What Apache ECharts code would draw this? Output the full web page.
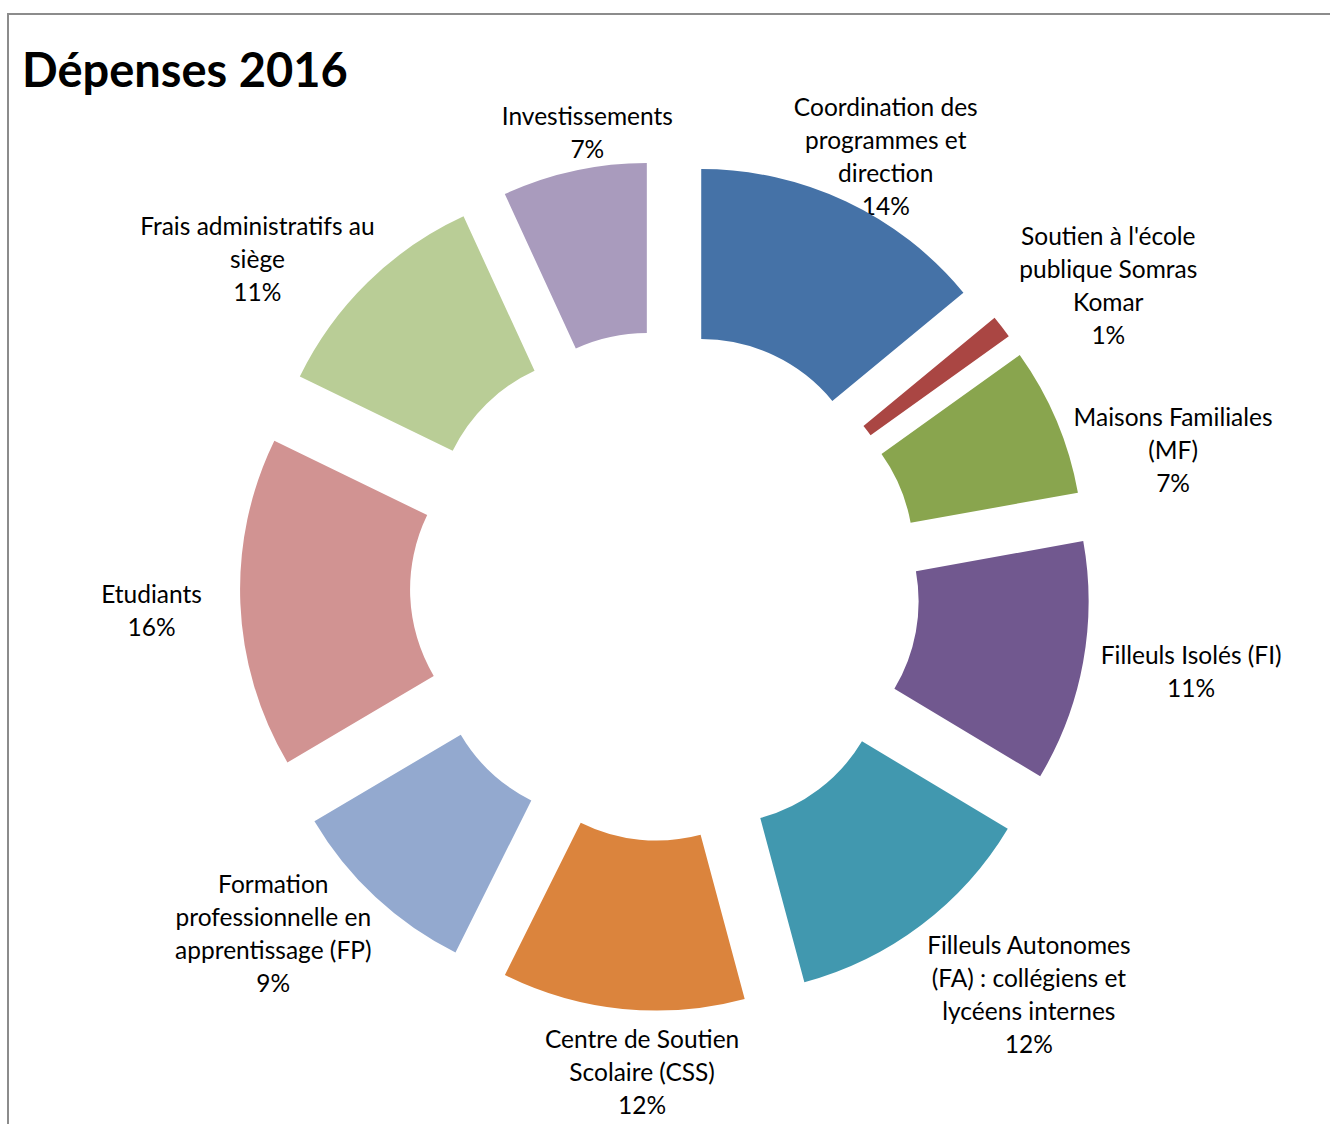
<!DOCTYPE html>
<html>
<head>
<meta charset="utf-8">
<script src="https://cdn.jsdelivr.net/npm/echarts@6/dist/echarts.min.js"></script>
<style>
  html, body { margin: 0; padding: 0; background: #fff; }
  #chart { position: absolute; left: 0; top: 0; width: 1330px; height: 1124px; }
  #frame { position: absolute; left: 7px; top: 13px; width: 1340px; height: 1200px;
           border-top: 2px solid #8c8c8c; border-left: 2px solid #8c8c8c; pointer-events: none; }
</style>
</head>
<body>
<div id="chart"></div>
<div id="frame"></div>
<script>
const title = 'Dépenses 2016';
const categories = [
  'Coordination des\nprogrammes et\ndirection',
  "Soutien à l'école\npublique Somras\nKomar",
  'Maisons Familiales\n(MF)',
  'Filleuls Isolés (FI)',
  'Filleuls Autonomes\n(FA) : collégiens et\nlycéens internes',
  'Centre de Soutien\nScolaire (CSS)',
  'Formation\nprofessionnelle en\napprentissage (FP)',
  'Etudiants',
  'Frais administratifs au\nsiège',
  'Investissements'
];
const values = [14.1, 1.1, 7.1, 11.5, 12.3, 11.6, 9.2, 15.8, 11.0, 6.9];
const colors = ['#4572A7', '#AA4643', '#89A54E', '#71588F', '#4198AF',
                '#DB843D', '#93A9CF', '#D19392', '#B9CD96', '#A99BBD'];

// layout (not data): chart geometry and label placement (polar: degrees clockwise from top, distance)
const CX = 665, CY = 586, R_IN = 170, R_OUT = 340, EXPLODE = 85;
const labelPolar = [
  [27.2, 483], [55.8, 536], [75.0, 526], [99.2, 533], [138.3, 547],
  [182.7, 486], [228.5, 523], [267.3, 514], [308.8, 523], [350.3, 461]
];
const FONT = '24.5px Lato';

const total = values.reduce((a, b) => a + b, 0);
const labelTexts = categories.map((c, i) => c + '\n' + Math.round(values[i] / total * 100) + '%');

const chart = echarts.init(document.getElementById('chart'), null, { renderer: 'svg' });
chart.setOption({
  animation: false,
  title: {
    text: title, left: 22, top: 45, padding: 0,
    textStyle: { fontFamily: 'Lato', fontWeight: 'bold', fontSize: 47, color: '#000' }
  },
  graphic: labelTexts.map((t, i) => {
    const a = labelPolar[i][0] * Math.PI / 180, d = labelPolar[i][1];
    return {
      type: 'text', silent: true,
      x: CX + d * Math.sin(a), y: CY - d * Math.cos(a),
      style: {
        text: t, font: FONT, fill: '#000', lineHeight: 33,
        align: 'center', verticalAlign: 'middle',
        textAlign: 'center', textVerticalAlign: 'middle'
      }
    };
  }),
  series: [{
    type: 'pie',
    center: [CX, CY],
    radius: [R_IN, R_OUT],
    startAngle: 90,
    clockwise: true,
    selectedMode: 'multiple',
    selectedOffset: EXPLODE,
    avoidLabelOverlap: false,
    emphasis: { disabled: true },
    itemStyle: { borderWidth: 0 },
    label: { show: false },
    labelLine: { show: false },
    data: categories.map((c, i) => ({
      name: c, value: values[i], selected: true,
      itemStyle: { color: colors[i] },
      select: { itemStyle: { color: colors[i] } }
    }))
  }]
});
</script>
</body>
</html>
